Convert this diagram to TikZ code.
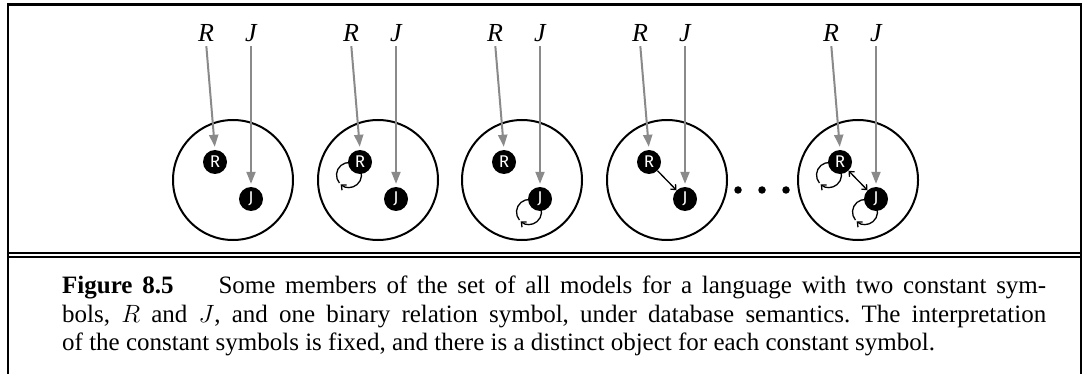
\documentclass[tikz,border=0pt]{standalone}
\usepackage{fix-cm}
\usepackage{fontspec}
\setmainfont{Liberation Serif}
\newfontfamily\objfont{Fira Sans}
\usetikzlibrary{arrows.meta,calc,backgrounds}
\definecolor{refgray}{RGB}{138,138,138}
\frenchspacing
\begin{document}
\begin{tikzpicture}[x=1pt,y=-1pt,
  world/.style={draw=black,line width=2pt,circle,minimum size=120pt,inner sep=0pt},
  obj/.style={fill=black,circle,minimum size=24pt,inner sep=0pt,text=white,font=\objfont\fontsize{17}{17}\selectfont},
  cname/.style={font=\itshape\fontsize{26}{26}\selectfont,inner sep=0pt,anchor=base},
  refarrow/.style={draw=refgray,line width=2pt,shorten <=4pt,shorten >=3pt,-{Triangle[length=12pt,width=9pt]}},
  rel/.style={draw=black,line width=1.3pt},
  tipb/.style={-{Straight Barb[length=4pt,width=7pt]}},
  frame/.style={draw=black,line width=2.4pt},
  capline/.style={anchor=base west,inner sep=0pt,font=\fontsize{25}{29}\selectfont},
  dot/.style={fill=black,circle,minimum size=7.5pt,inner sep=0pt}]
\useasboundingbox (0,0) rectangle (1089,374);
% frame
\coordinate (tl) at (7.7,4.5);
\coordinate (tr) at (1081,4.5);
\coordinate (bl) at (7.7,374);
\coordinate (br) at (1081,374);
\draw[frame] (bl) -- (tl) -- (tr) -- (br);
\coordinate (d1l) at (7.7,252.8);
\coordinate (d1r) at (1081,252.8);
\coordinate (d2l) at (7.7,256.8);
\coordinate (d2r) at (1081,256.8);
\draw[draw=black,line width=2.5pt] (d1l) -- (d1r);
\draw[draw=black,line width=1.5pt] (d2l) -- (d2r);
% panels
\foreach \i/\cx in {1/233,2/378,3/522,4/667,5/858}{
  \node[world] (w\i) at (\cx,180) {};
  \node[obj] (r\i) at (\cx-18,162) {R};
  \node[obj] (j\i) at (\cx+18,199) {J};
  \node[cname] (lr\i) at (\cx-27,42) {R};
  \node[cname] (lj\i) at (\cx+18,42) {J};
  \draw[refarrow] (lr\i.south) -- (r\i.north);
  \draw[refarrow] (lj\i.south) -- (j\i.north);
}
% loops and relations
\begin{scope}[on background layer]
  \foreach \n in {r2,j3,r5,j5}{
    \draw[rel,tipb] ($(\n)+(-11,13)$) ++(-40:12.5) arc[start angle=-40,end angle=132,radius=12.5];
    \draw[rel] ($(\n)+(-11,13)$) ++(140:12.5) arc[start angle=140,end angle=320,radius=12.5];
  }
\end{scope}
\draw[rel,tipb] (r4) -- (j4);
\draw[rel,{Straight Barb[length=4pt,width=7pt]}-{Straight Barb[length=4pt,width=7pt]}] (r5) -- (j5);
% dots
\node[dot] (dt1) at (738,190) {};
\node[dot] (dt2) at (762,190) {};
\node[dot] (dt3) at (786,190) {};
% caption
\node[capline] (c1) at (62,293.5) {\makebox[984pt][s]{\textbf{Figure 8.5}\hspace{1.8em}Some members of the set of all models for a language with two constant sym-}};
\node[capline] (c2) at (62,322) {\makebox[984pt][s]{bols, $R$ and $J$, and one binary relation symbol, under database semantics. The interpretation}};
\node[capline] (c3) at (62,350.5) {of the constant symbols is fixed, and there is a distinct object for each constant symbol.};
\end{tikzpicture}
\end{document}
